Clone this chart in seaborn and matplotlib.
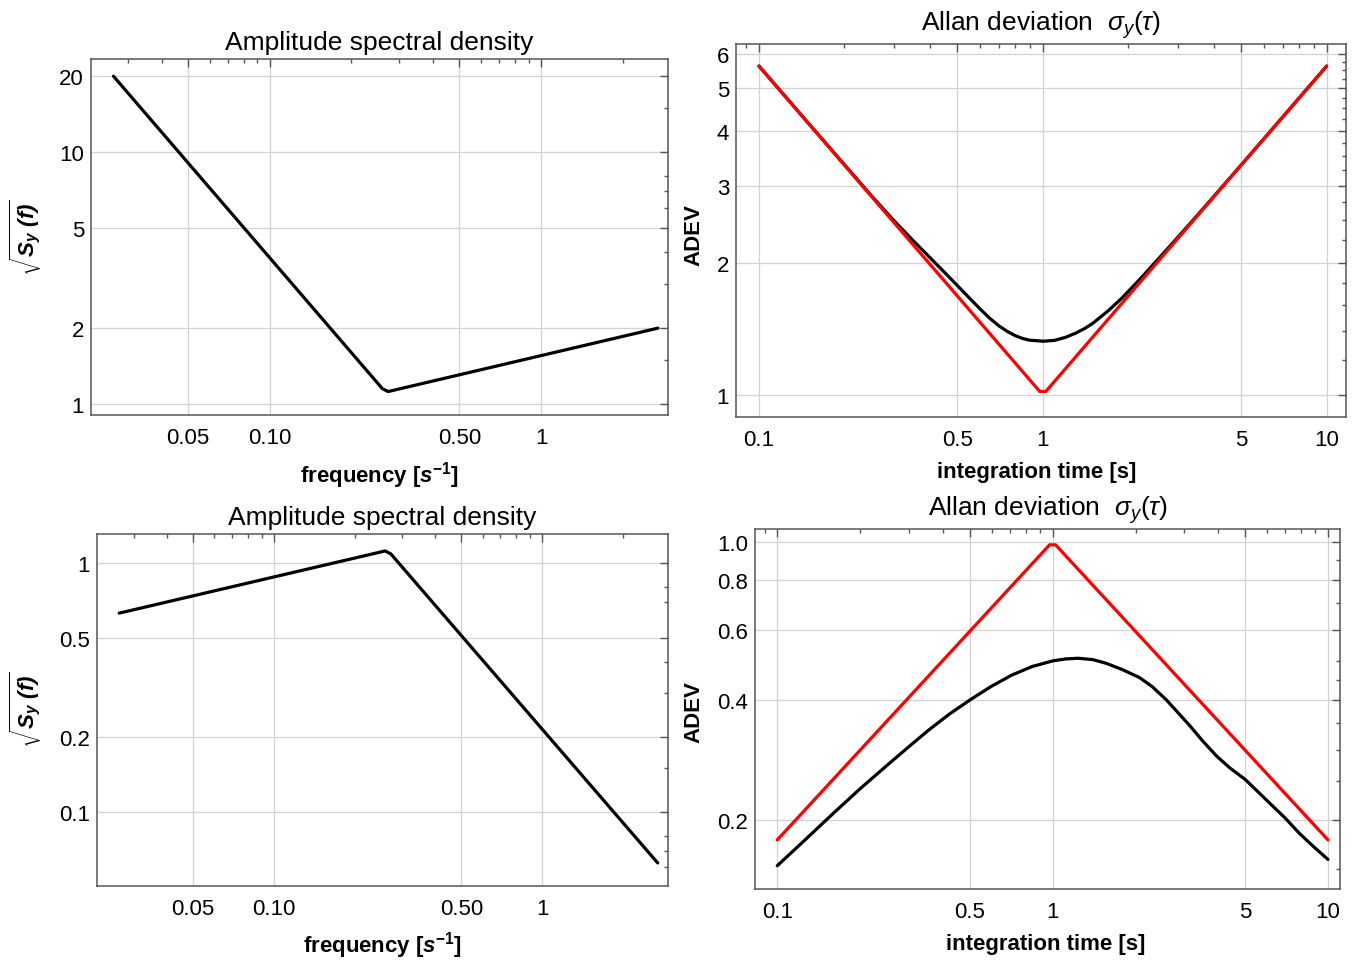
import numpy as np
import pandas as pd
import matplotlib
matplotlib.use("Agg")
import matplotlib.pyplot as plt
import matplotlib.ticker as mticker
import seaborn as sns

# ---------------- data ----------------
# amplitude spectral densities (break points of the log-log lines)
freq_a = [0.0265, 0.26, 0.273, 2.7]
asd_a = [20.0, 1.15, 1.12, 2.0]

freq_b = [0.0265, 0.26, 0.273, 2.7]
asd_b = [0.63, 1.12, 1.09, 0.0625]

# Allan deviation, case A (minimum near tau = 1)
tau_a = [0.1, 0.15, 0.2, 0.25, 0.3, 0.35, 0.4, 0.45, 0.5, 0.55, 0.6, 0.65,
         0.7, 0.75, 0.8, 0.85, 0.9, 0.95, 1.0, 1.1, 1.2, 1.3, 1.4, 1.5, 1.7,
         1.9, 2.2, 2.5, 2.9, 3.5, 5.0, 7.0, 10.0]
adev_a = [5.62, 4.15, 3.35, 2.837, 2.491, 2.246, 2.058, 1.905, 1.776, 1.666,
          1.573, 1.496, 1.438, 1.396, 1.365, 1.345, 1.333, 1.330, 1.326,
          1.332, 1.353, 1.382, 1.416, 1.457, 1.556, 1.663, 1.837, 2.012,
          2.238, 2.567, 3.344, 4.30, 5.62]
# asymptotes for case A
tau_asym_a = [0.1, 0.975, 1.025, 10.0]
adev_asym_a = [5.62, 1.019, 1.019, 5.62]

# Allan deviation, case B (maximum near tau = 1)
tau_b = [0.1, 0.1259, 0.1585, 0.1995, 0.2512, 0.2985, 0.3548, 0.4217,
         0.5012, 0.5957, 0.7079, 0.8414, 1.0, 1.113, 1.238, 1.4, 1.57, 1.8,
         2.07, 2.3, 2.59, 2.85, 3.145, 3.5, 3.93, 4.4, 5.0, 5.6, 6.3, 7.0,
         7.87, 8.8, 10.0]
adev_b = [0.1533, 0.1778, 0.2065, 0.239, 0.2745, 0.304, 0.336, 0.3685, 0.4,
          0.4317, 0.4611, 0.4851, 0.5012, 0.507, 0.509, 0.505, 0.494, 0.476,
          0.455, 0.432, 0.4, 0.372, 0.345, 0.316, 0.2896, 0.27, 0.2527,
          0.2343, 0.2165, 0.2018, 0.185, 0.172, 0.159]
tau_asym_b = [0.1, 0.975, 1.025, 10.0]
adev_asym_b = [0.178, 0.981, 0.981, 0.178]

# tick values
f_major = [0.05, 0.1, 0.5, 1]
f_labels = ["0.05", "0.10", "0.50", "1"]
t_major = [0.1, 0.5, 1, 5, 10]
t_labels = ["0.1", "0.5", "1", "5", "10"]

asd_a_major = [1, 2, 5, 10, 20]
asd_a_minor = [1.5, 3, 4, 6, 7, 8, 15]
asd_b_major = [0.1, 0.2, 0.5, 1]
asd_b_minor = [0.06, 0.07, 0.08, 0.15, 0.3, 0.4, 0.7, 0.8]
adev_a_major = [1, 2, 3, 4, 5, 6]
adev_a_minor = [1.2, 1.4, 1.6, 1.8, 2.25, 2.5, 2.75, 3.25, 3.5, 3.75,
                4.25, 4.5, 4.75, 5.25, 5.5, 5.75]
adev_b_major = [0.2, 0.4, 0.6, 0.8, 1.0]
adev_b_labels = ["0.2", "0.4", "0.6", "0.8", "1.0"]
adev_b_minor = [0.15, 0.25, 0.3, 0.35, 0.45, 0.5, 0.7, 0.9]

# ---------------- style ----------------
sns.set_theme(style="white")
plt.rcParams["font.family"] = ["Liberation Sans", "DejaVu Sans"]
plt.rcParams["mathtext.fontset"] = "custom"
plt.rcParams["mathtext.rm"] = "Liberation Sans"
plt.rcParams["mathtext.it"] = "Liberation Sans:italic"
plt.rcParams["mathtext.bf"] = "Liberation Sans:bold"
try:
    plt.rcParams["mathtext.bfit"] = "Liberation Sans:bold:italic"
except KeyError:
    pass

FRAME = "#555555"
GRID = "#d2d2d2"
LW = 2.3

fig = plt.figure(figsize=(13.58, 9.62), dpi=100)

W, H = 1358.0, 962.0


def box(l, r, t, b):
    return [l / W, 1 - b / H, (r - l) / W, (b - t) / H]


ax1 = fig.add_axes(box(91, 668, 60, 416))
ax2 = fig.add_axes(box(736, 1346, 45, 418))
ax3 = fig.add_axes(box(97, 668, 535, 887))
ax4 = fig.add_axes(box(755, 1340, 530, 890))


def style(ax, xlim, ylim, xmaj, xlab, ymaj, ylab, ymin):
    ax.set_xscale("log")
    ax.set_yscale("log")
    ax.set_xlim(*xlim)
    ax.set_ylim(*ylim)
    ax.xaxis.set_major_locator(mticker.FixedLocator(xmaj))
    ax.xaxis.set_major_formatter(mticker.FixedFormatter(xlab))
    ax.xaxis.set_minor_locator(mticker.LogLocator(base=10, subs=np.arange(2, 10), numticks=20))
    ax.xaxis.set_minor_formatter(mticker.NullFormatter())
    ax.yaxis.set_major_locator(mticker.FixedLocator(ymaj))
    ax.yaxis.set_major_formatter(mticker.FixedFormatter(ylab))
    ax.yaxis.set_minor_locator(mticker.FixedLocator(ymin))
    ax.yaxis.set_minor_formatter(mticker.NullFormatter())
    ax.tick_params(which="both", direction="in", top=True, right=True,
                   color=FRAME, width=1.0, labelsize=16, labelcolor="black")
    ax.tick_params(which="major", length=5.5, pad=5)
    ax.tick_params(which="minor", length=3.2)
    ax.tick_params(axis="x", which="major", pad=9)
    for s in ax.spines.values():
        s.set_color(FRAME)
        s.set_linewidth(1.1)
    ax.grid(True, which="major", color=GRID, lw=0.9)
    ax.set_axisbelow(True)


def draw(ax, x, y, color):
    df = pd.DataFrame({"x": x, "y": y})
    sns.lineplot(data=df, x="x", y="y", ax=ax, color=color, lw=LW,
                 sort=False, estimator=None)


# panel 1: spectral density A
style(ax1, (0.0219, 2.94), (0.904, 23.4), f_major, f_labels,
      asd_a_major, [str(v) for v in asd_a_major], asd_a_minor)
draw(ax1, freq_a, asd_a, "black")

# panel 2: Allan deviation A
style(ax2, (0.083, 11.7), (0.891, 6.31), t_major, t_labels,
      adev_a_major, [str(v) for v in adev_a_major], adev_a_minor)
draw(ax2, tau_a, adev_a, "black")
draw(ax2, tau_asym_a, adev_asym_a, "#ff0000")

# panel 3: spectral density B
style(ax3, (0.0219, 2.95), (0.0505, 1.31), f_major, f_labels,
      asd_b_major, [f"{v:g}" for v in asd_b_major], asd_b_minor)
draw(ax3, freq_b, asd_b, "black")

# panel 4: Allan deviation B
style(ax4, (0.083, 11.06), (0.134, 1.075), t_major, t_labels,
      adev_b_major, adev_b_labels, adev_b_minor)
draw(ax4, tau_b, adev_b, "black")
draw(ax4, tau_asym_b, adev_asym_b, "#ff0000")

# titles and axis labels
asd_title = "Amplitude spectral density"
adev_title = r"Allan deviation  $\sigma_y(\tau)$"
freq_label = r"frequency [$\mathbfit{s}^{\mathbf{-1}}$]"
tau_label = "integration time [s]"
asd_ylabel = r"$\sqrt{\mathbfit{S_y\ (f)}}$"
adev_ylabel = "ADEV"

for ax, title, pad in ((ax1, asd_title, 7), (ax2, adev_title, 10.5),
                       (ax3, asd_title, 7), (ax4, adev_title, 10.5)):
    ax.set_title(title, fontsize=19, pad=pad, color="black")

for ax, xl, xy in ((ax1, freq_label, (0.5, -0.124)),
                   (ax2, tau_label, (0.493, -0.118)),
                   (ax3, freq_label, (0.5, -0.122)),
                   (ax4, tau_label, (0.497, -0.122))):
    ax.set_xlabel(xl, fontsize=16, fontweight="bold", color="black")
    ax.xaxis.set_label_coords(*xy)

for ax, yl, xy in ((ax1, asd_ylabel, (-0.081, 0.5)),
                   (ax2, adev_ylabel, (-0.0525, 0.49)),
                   (ax3, asd_ylabel, (-0.093, 0.503)),
                   (ax4, adev_ylabel, (-0.0872, 0.494))):
    ax.set_ylabel(yl, fontsize=16, fontweight="bold", color="black")
    ax.yaxis.set_label_coords(*xy)

fig.savefig("out.png", dpi=100, facecolor="white")
